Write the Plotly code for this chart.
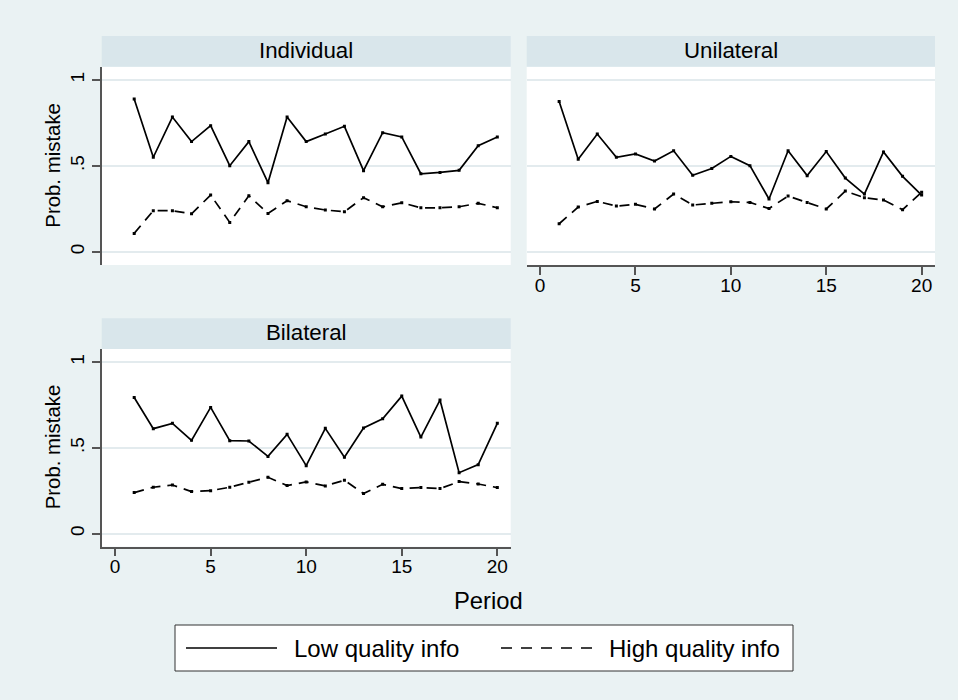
import plotly.graph_objects as go

W, H = 958, 700

periods = list(range(1, 21))

individual_low = [0.889, 0.550, 0.784, 0.641, 0.734, 0.501, 0.641, 0.402, 0.784, 0.641,
                  0.685, 0.730, 0.472, 0.693, 0.668, 0.454, 0.462, 0.474, 0.617, 0.668]
individual_high = [0.107, 0.239, 0.239, 0.221, 0.330, 0.171, 0.326, 0.223, 0.297, 0.262,
                   0.243, 0.233, 0.315, 0.262, 0.285, 0.256, 0.256, 0.262, 0.282, 0.256]

unilateral_low = [0.874, 0.538, 0.685, 0.550, 0.569, 0.528, 0.588, 0.445, 0.485, 0.555,
                  0.501, 0.307, 0.588, 0.443, 0.583, 0.429, 0.336, 0.581, 0.439, 0.330]
unilateral_high = [0.163, 0.260, 0.293, 0.266, 0.276, 0.249, 0.336, 0.272, 0.282, 0.291,
                   0.287, 0.252, 0.324, 0.287, 0.249, 0.353, 0.315, 0.301, 0.245, 0.346]

bilateral_low = [0.794, 0.612, 0.643, 0.544, 0.736, 0.542, 0.540, 0.450, 0.579, 0.396,
                 0.614, 0.445, 0.616, 0.670, 0.802, 0.563, 0.779, 0.355, 0.402, 0.643]
bilateral_high = [0.239, 0.270, 0.283, 0.245, 0.250, 0.270, 0.299, 0.328, 0.280, 0.301,
                  0.278, 0.311, 0.233, 0.287, 0.262, 0.268, 0.262, 0.303, 0.289, 0.268]

panel_titles = ["Individual", "Unilateral", "Bilateral"]
series_names = ["Low quality info", "High quality info"]
x_ticks = [0, 5, 10, 15, 20]
y_ticks = [0, 0.5, 1]
y_tick_text = ["0", ".5", "1"]

FONT = "Liberation Sans, Arial, Helvetica, sans-serif"
BG = "#eaf2f3"
STRIP = "#d9e6eb"
GRID = "#e3ebee"
AXIS = "#555555"
DASH = "10px,7px"


def px(x):
    return x / W


def py(y):
    return 1 - y / H


fig = go.Figure()

panels = [
    ("x", "y", individual_low, individual_high),
    ("x2", "y2", unilateral_low, unilateral_high),
    ("x3", "y3", bilateral_low, bilateral_high),
]
for xa, ya, low, high in panels:
    fig.add_trace(go.Scatter(x=periods, y=low, xaxis=xa, yaxis=ya, mode="lines+markers",
                             name=series_names[0], showlegend=False,
                             line=dict(color="black", width=1.7),
                             marker=dict(color="black", size=3, symbol="square")))
    fig.add_trace(go.Scatter(x=periods, y=high, xaxis=xa, yaxis=ya, mode="lines+markers",
                             name=series_names[1], showlegend=False,
                             line=dict(color="black", width=1.7, dash=DASH),
                             marker=dict(color="black", size=3, symbol="square")))

xr = [-0.7, 20.7]
yr = [-0.077, 1.077]

top_dom = [py(265), py(66.7)]
bot_dom = [py(546.7), py(349)]
left_dom = [px(101.7), px(510.7)]
right_dom = [px(526.7), px(935)]

tickfont = dict(family=FONT, size=19, color="black")

common_x = dict(range=xr, zeroline=False, showgrid=False, tickvals=x_ticks,
                ticklen=8, tickwidth=1.5, tickcolor=AXIS, ticklabelstandoff=-6,
                linecolor=AXIS, linewidth=1.5, tickfont=tickfont, fixedrange=True)
common_y = dict(range=yr, zeroline=False, showgrid=True, gridcolor=GRID, gridwidth=1.5,
                tickvals=y_ticks, ticktext=y_tick_text, tickangle=-90,
                tickcolor=AXIS, tickwidth=1.5, linecolor=AXIS, linewidth=1.5,
                tickfont=tickfont, fixedrange=True)

fig.update_layout(
    width=W, height=H,
    margin=dict(l=0, r=0, t=0, b=0),
    paper_bgcolor=BG, plot_bgcolor="white",
    font=dict(family=FONT, color="black"),
    xaxis=dict(domain=left_dom, anchor="y", showline=False, ticks="",
               showticklabels=False, **common_x),
    yaxis=dict(domain=top_dom, anchor="x", showline=True, ticks="outside", ticklen=8,
               showticklabels=True, **common_y),
    xaxis2=dict(domain=right_dom, anchor="y2", showline=True, ticks="outside",
                showticklabels=True, **common_x),
    yaxis2=dict(domain=top_dom, anchor="x2", showline=False, ticks="",
                showticklabels=False, **common_y),
    xaxis3=dict(domain=left_dom, anchor="y3", showline=True, ticks="outside",
                showticklabels=True, **common_x),
    yaxis3=dict(domain=bot_dom, anchor="x3", showline=True, ticks="outside", ticklen=8,
                showticklabels=True, **common_y),
)

shapes = []
annotations = []

strips = [
    (101.7, 510.7, 36, 66.7, panel_titles[0]),
    (526.7, 935, 36, 66.7, panel_titles[1]),
    (101.7, 510.7, 318.3, 349, panel_titles[2]),
]
for x0, x1, y0, y1, title in strips:
    shapes.append(dict(type="rect", xref="paper", yref="paper",
                       x0=px(x0), x1=px(x1), y0=py(y1), y1=py(y0),
                       fillcolor=STRIP, line=dict(width=0), layer="below"))
    annotations.append(dict(text=title, xref="paper", yref="paper",
                            x=px((x0 + x1) / 2), y=py((y0 + y1) / 2 - 1),
                            xanchor="center", yanchor="middle", showarrow=False,
                            font=dict(family=FONT, size=22.3, color="black")))

# y-axis titles
for yc in (165.7, 447.3):
    annotations.append(dict(text="Prob. mistake", xref="paper", yref="paper",
                            x=px(53), y=py(yc), textangle=-90,
                            xanchor="center", yanchor="middle", showarrow=False,
                            font=dict(family=FONT, size=20.4, color="black")))

# x-axis title
annotations.append(dict(text="Period", xref="paper", yref="paper",
                        x=px(488), y=py(600), xanchor="center", yanchor="middle",
                        showarrow=False, font=dict(family=FONT, size=23.8, color="black")))

# legend
shapes.append(dict(type="rect", xref="paper", yref="paper",
                   x0=px(175), x1=px(793), y0=py(671), y1=py(625),
                   fillcolor="white", line=dict(color="#333333", width=1)))
ly = 648
shapes.append(dict(type="line", xref="paper", yref="paper",
                   x0=px(186), x1=px(277), y0=py(ly), y1=py(ly),
                   line=dict(color="black", width=1.7)))
shapes.append(dict(type="line", xref="paper", yref="paper",
                   x0=px(501), x1=px(593), y0=py(ly), y1=py(ly),
                   line=dict(color="black", width=1.7, dash="11px,9px")))
annotations.append(dict(text=series_names[0], xref="paper", yref="paper",
                        x=px(292), y=py(ly), xanchor="left", yanchor="middle",
                        showarrow=False, font=dict(family=FONT, size=24, color="black")))
annotations.append(dict(text=series_names[1], xref="paper", yref="paper",
                        x=px(607), y=py(ly), xanchor="left", yanchor="middle",
                        showarrow=False, font=dict(family=FONT, size=24, color="black")))

fig.update_layout(shapes=shapes, annotations=annotations)

fig.write_html("out.html", config={"displayModeBar": False},
               post_script="document.body.style.margin='0';document.body.style.padding='0';")
